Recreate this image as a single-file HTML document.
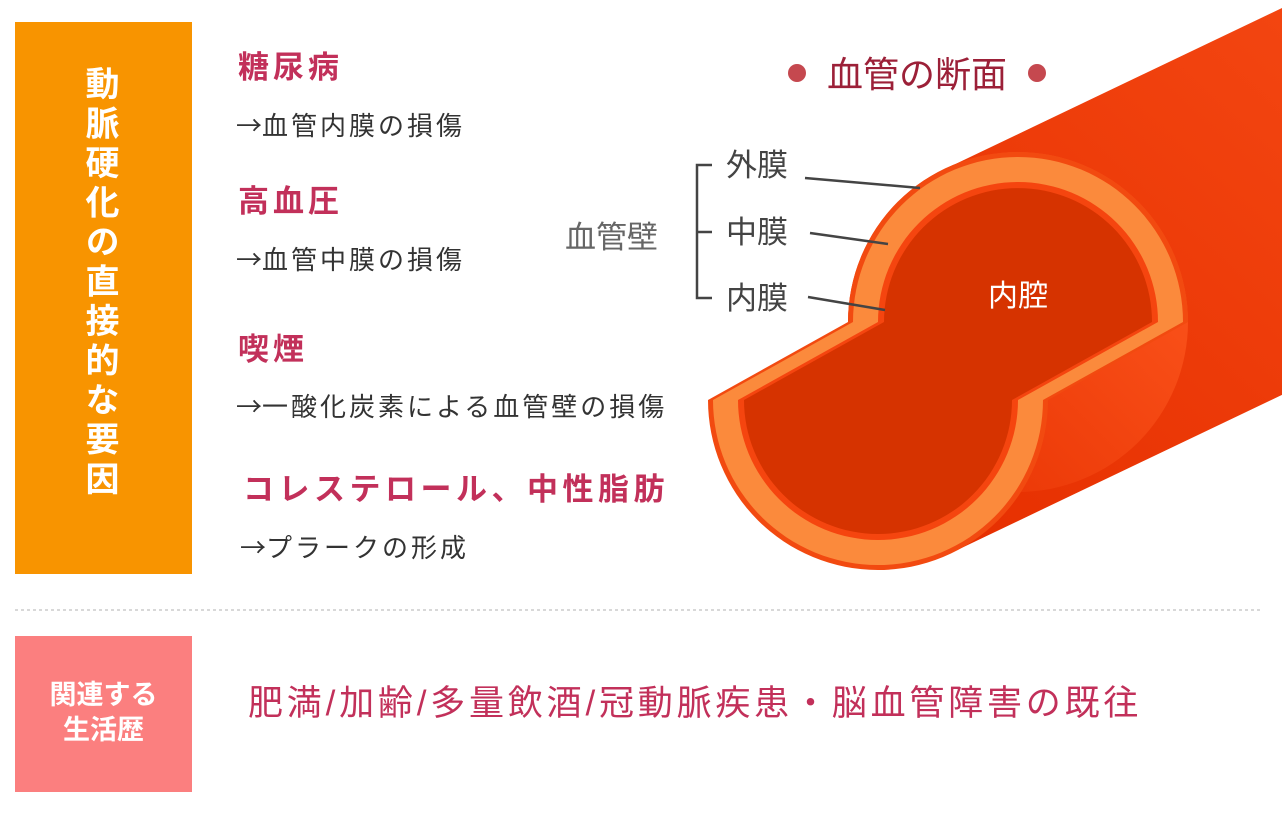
<!DOCTYPE html>
<html><head><meta charset="utf-8"><style>
body{margin:0;width:1282px;height:834px;background:#fff;position:relative;overflow:hidden;font-family:"Liberation Sans","Noto Sans CJK JP",sans-serif}
.a{position:absolute;white-space:nowrap}
.h{color:#c2305a;font-weight:bold;font-size:31px;letter-spacing:4px;line-height:1}
.t{color:#333;font-size:26px;letter-spacing:3px;line-height:1}
.ar{font-family:"Noto Sans CJK JP",sans-serif;letter-spacing:0}
</style></head><body>
<div class="a" style="left:15px;top:22px;width:177px;height:552px;background:#f89400"></div>
<div class="a" style="left:82px;top:66px;writing-mode:vertical-rl;color:#fff;font-weight:bold;font-size:34px;letter-spacing:5.5px;line-height:1">動脈硬化の直接的な要因</div>

<div class="a h" style="left:238px;top:52px">糖尿病</div>
<div class="a t" style="left:236px;top:112px"><span class="ar">→</span>血管内膜の損傷</div>
<div class="a h" style="left:238px;top:186px">高血圧</div>
<div class="a t" style="left:236px;top:246px"><span class="ar">→</span>血管中膜の損傷</div>
<div class="a h" style="left:238px;top:334px">喫煙</div>
<div class="a t" style="left:236px;top:393px"><span class="ar">→</span>一酸化炭素による血管壁の損傷</div>
<div class="a h" style="left:243px;top:474px;letter-spacing:4.5px">コレステロール、中性脂肪</div>
<div class="a t" style="left:240px;top:534px"><span class="ar">→</span>プラークの形成</div>

<svg class="a" style="left:0;top:0" width="1282" height="834">
<defs><linearGradient id="g" x1="0" y1="1" x2="1" y2="0"><stop offset="0" stop-color="#e62f00"/><stop offset="1" stop-color="#ff5a20"/></linearGradient></defs>
<path d="M945,169 L1845,-261 L1851,123 L951,553 Z" fill="url(#g)"/>
<circle cx="1018" cy="322" r="170" fill="url(#g)"/>
<path d="M848,322 A170,170 0 0 1 1188,322 L1048,400 A170,170 0 0 1 708,400 Z" fill="#f24a10"/>
<path d="M853,322 A165,165 0 0 1 1183,322 L1043,400 A165,165 0 0 1 713,400 Z" fill="#fb8a3c"/>
<path d="M878,322 A140,140 0 0 1 1158,322 L1018,400 A140,140 0 0 1 738,400 Z" fill="#f5450f"/>
<path d="M884,322 A134,134 0 0 1 1152,322 L1012,400 A134,134 0 0 1 744,400 Z" fill="#d63300"/>
<text x="1018" y="306" fill="#fff" font-size="30" text-anchor="middle">内腔</text>
<circle cx="797" cy="73" r="9" fill="#c5484f"/><circle cx="1037" cy="73" r="9" fill="#c5484f"/>
<text x="917" y="87" fill="#9c2038" font-size="36" text-anchor="middle">血管の断面</text>
<g stroke="#444" stroke-width="2.5" fill="none">
<path d="M712,165 H697 V298 H712 M697,232 H712"/>
<path d="M805,178 L920,188 M810,233 L888,244 M808,297 L885,310"/>
</g>
<g fill="#444" font-size="31"><text x="726" y="176">外膜</text><text x="726" y="243">中膜</text><text x="726" y="309">内膜</text></g>
<text x="565" y="248" fill="#666" font-size="31">血管壁</text>
<line x1="15" y1="610" x2="1262" y2="610" stroke="#ccc" stroke-width="1.5" stroke-dasharray="3,3"/>
</svg>

<div class="a" style="left:15px;top:636px;width:177px;height:156px;background:#fb7f7f"></div>
<div class="a" style="left:15px;top:678px;width:177px;text-align:center;color:#fff;font-weight:bold;font-size:27px;line-height:35px;white-space:normal">関連する<br>生活歴</div>
<div class="a" style="left:248px;top:686px;color:#c2305a;font-size:35px;letter-spacing:3.8px;line-height:1">肥満/加齢/多量飲酒/冠動脈疾患・脳血管障害の既往</div>
</body></html>
